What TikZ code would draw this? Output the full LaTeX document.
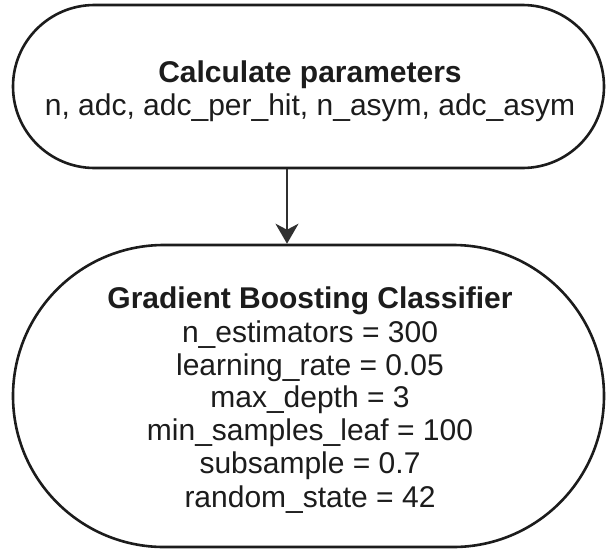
\documentclass[tikz,border=0pt]{standalone}
\usepackage{fontspec}
\setmainfont{Liberation Sans}
\usetikzlibrary{arrows.meta}
\definecolor{ink}{HTML}{1C1C1C}
\definecolor{arr}{HTML}{303030}
\begin{document}
\begin{tikzpicture}[x=1pt,y=-1pt,
  stadium/.style={draw=ink, line width=2.6pt, fill=white, inner sep=0pt},
  txt/.style={text=ink, font=\fontsize{30}{33.2}\selectfont, align=center, inner sep=0pt},
  conn/.style={draw=arr, line width=2pt, -{Stealth[length=20pt,width=23pt,inset=6pt]}}]
\useasboundingbox (0,0) rectangle (606,550);
\node[stadium, minimum width=591pt, minimum height=163pt, rounded corners=81.5pt] (top) at (308.5,86.5) {};
\node[stadium, minimum width=591pt, minimum height=302pt, rounded corners=151pt] (bot) at (308.5,396) {};
\node[txt, anchor=base] (ttitle) at (310,82) {\bfseries Calculate parameters};
\node[txt, anchor=base] (tpars) at (310,115) {n, adc, adc\_per\_hit, n\_asym, adc\_asym};
\node[txt, anchor=base] (btitle) at (310,308) {\bfseries Gradient Boosting Classifier};
\node[txt, anchor=base] (b1) at (310,342) {n\_estimators = 300};
\node[txt, anchor=base] (b2) at (310,375) {learning\_rate = 0.05};
\node[txt, anchor=base] (b3) at (310,407) {max\_depth = 3};
\node[txt, anchor=base] (b4) at (310,440) {min\_samples\_leaf = 100};
\node[txt, anchor=base] (b5) at (310,473) {subsample = 0.7};
\node[txt, anchor=base] (b6) at (310,507) {random\_state = 42};
\draw[conn] ([xshift=-21.5pt]top.south) -- ([xshift=-21.5pt]bot.north);
\end{tikzpicture}
\end{document}
